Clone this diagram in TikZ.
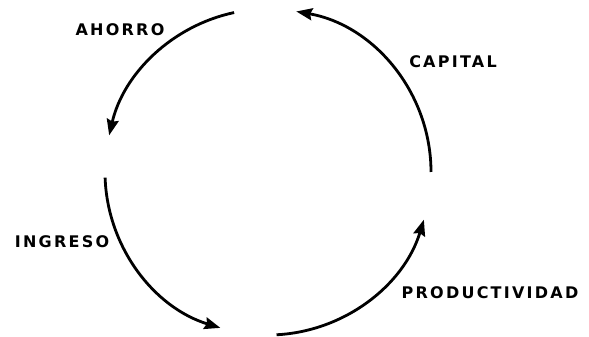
\documentclass[tikz,border=0pt]{standalone}
\usepackage{fontspec}
\newfontfamily\lblfont[LetterSpace=14]{DejaVu Sans}
\usetikzlibrary{arrows.meta}

\begin{document}
\begin{tikzpicture}[
    x=1pt, y=1pt,
    lbl/.style={font=\lblfont\bfseries\fontsize{16}{16}\selectfont, inner sep=0pt},
    flow/.style={-{Stealth[length=16pt, width=12pt, inset=2pt]}, line width=2.8pt}
]
\useasboundingbox (0,0) rectangle (589,337);
\coordinate (c) at (268,165);
\node[lbl] (ahorro) at (120,307) {AHORRO};
\node[lbl] (capital) at (453,275) {CAPITAL};
\node[lbl] (ingreso) at (62,95) {INGRESO};
\node[lbl] (prod) at (490,44) {PRODUCTIVIDAD};
\path (c) ++(102:163) coordinate (s1);
\path (c) ++(182:163) coordinate (s2);
\path (c) ++(273:163) coordinate (s3);
\path (c) ++(0:163) coordinate (s4);
\draw[flow] (s1) arc[start angle=102, end angle=167, radius=163];
\draw[flow] (s2) arc[start angle=182, end angle=253, radius=163];
\draw[flow] (s3) arc[start angle=273, end angle=343, radius=163];
\draw[flow] (s4) arc[start angle=0, end angle=80, radius=163];
\end{tikzpicture}
\end{document}
